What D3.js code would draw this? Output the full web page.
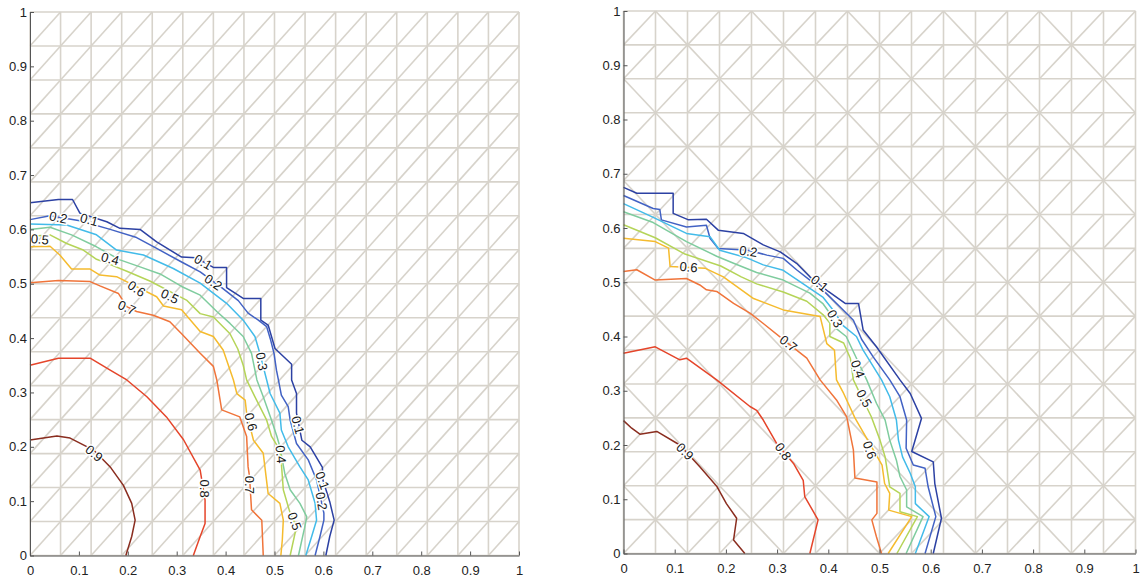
<!DOCTYPE html>
<html lang="en">
<head>
    <meta charset="UTF-8">
    <title>Contours on triangular meshes</title>
    <script src="https://d3js.org/d3.v7.min.js"></script>
    <style>
        body {
            margin: 0;
            background: #fff;
            font-family: "Liberation Sans", Arial, sans-serif;
        }
        .mesh {
            fill: none;
            stroke: #d7d3cb;
            stroke-width: 1.6;
        }
        .contour {
            fill: none;
            stroke-width: 1.5;
            stroke-linejoin: round;
        }
        .clabel {
            font-size: 13px;
            fill: #1a1a1a;
            stroke: #fff;
            stroke-width: 3px;
            paint-order: stroke;
        }
        .axis path, .axis line {
            stroke: #555;
        }
        .axis text {
            fill: #222;
            font-size: 13px;
            font-family: "Liberation Sans", Arial, sans-serif;
        }
    </style>
</head>
<body>
<svg width="1143" height="580"></svg>
<script>
    // tick values and labels (same on both axes)
    const ticks = [0, 0.1, 0.2, 0.3, 0.4, 0.5, 0.6, 0.7, 0.8, 0.9, 1];
    const tickLabels = ["0", "0.1", "0.2", "0.3", "0.4", "0.5", "0.6", "0.7", "0.8", "0.9", "1"];

    // contour levels and their colours (jet-like)
    const levels = [0.1, 0.2, 0.3, 0.4, 0.5, 0.6, 0.7, 0.8, 0.9];
    const levelColors = ["#2c41a3", "#4262c4", "#42bbe9", "#7fcc9e", "#b5d458",
                         "#f5bb2e", "#f0743a", "#e5452a", "#8a2d1f"];

    const meshCells = 16;

    // ---- left panel: contour polylines [x, y] ----
    const left01 = [[0,0.649],[0.058,0.655],[0.087,0.655],[0.102,0.630],[0.157,0.614],[0.184,0.602],[0.225,0.600],
        [0.259,0.577],[0.310,0.549],[0.339,0.548],[0.375,0.530],[0.402,0.530],[0.402,0.493],[0.436,0.473],
        [0.472,0.473],[0.472,0.433],[0.487,0.424],[0.501,0.381],[0.535,0.352],[0.535,0.323],[0.545,0.298],
        [0.545,0.262],[0.556,0.212],[0.573,0.200],[0.598,0.162],[0.599,0.139],[0.613,0.099],[0.622,0.065],
        [0.613,0.035],[0.605,0]];
    const left02 = [[0,0.618],[0.041,0.625],[0.102,0.616],[0.164,0.600],[0.218,0.585],[0.259,0.565],[0.310,0.540],
        [0.348,0.522],[0.392,0.493],[0.426,0.469],[0.446,0.446],[0.467,0.433],[0.484,0.421],[0.492,0.397],
        [0.499,0.372],[0.504,0.341],[0.508,0.323],[0.514,0.295],[0.528,0.274],[0.532,0.249],[0.545,0.206],
        [0.569,0.176],[0.586,0.139],[0.601,0.078],[0.601,0.065],[0.593,0.035],[0.583,0]];
    const left03 = [[0,0.610],[0.075,0.608],[0.136,0.590],[0.177,0.562],[0.232,0.553],[0.293,0.528],[0.348,0.501],
        [0.402,0.464],[0.436,0.433],[0.460,0.403],[0.470,0.372],[0.484,0.323],[0.491,0.298],[0.511,0.262],
        [0.514,0.231],[0.528,0.200],[0.552,0.163],[0.569,0.139],[0.583,0.096],[0.586,0.065],[0.576,0.035],[0.564,0]];
    const left04 = [[0,0.600],[0.041,0.604],[0.085,0.590],[0.136,0.568],[0.184,0.544],[0.225,0.531],[0.266,0.518],
        [0.310,0.495],[0.348,0.479],[0.382,0.449],[0.409,0.427],[0.436,0.403],[0.453,0.372],[0.464,0.323],
        [0.477,0.292],[0.494,0.249],[0.505,0.219],[0.511,0.200],[0.521,0.151],[0.532,0.121],[0.552,0.096],
        [0.566,0.071],[0.562,0.053],[0.549,0]];
    const left05 = [[0,0.587],[0.041,0.590],[0.075,0.574],[0.109,0.562],[0.136,0.545],[0.157,0.538],[0.198,0.523],
        [0.245,0.505],[0.320,0.470],[0.348,0.445],[0.375,0.439],[0.409,0.408],[0.425,0.380],[0.436,0.350],
        [0.443,0.323],[0.460,0.292],[0.484,0.249],[0.494,0.219],[0.511,0.194],[0.514,0.170],[0.518,0.121],
        [0.532,0.078],[0.545,0.053],[0.532,0]];
    const left06 = [[0,0.568],[0.041,0.569],[0.061,0.553],[0.085,0.527],[0.123,0.527],[0.143,0.516],[0.177,0.513],
        [0.259,0.476],[0.273,0.459],[0.310,0.452],[0.348,0.412],[0.375,0.403],[0.395,0.378],[0.416,0.323],
        [0.423,0.298],[0.440,0.286],[0.443,0.262],[0.457,0.212],[0.477,0.188],[0.487,0.114],[0.511,0.096],
        [0.518,0.065],[0.516,0.029],[0.513,0]];
    const left07 = [[0,0.502],[0.058,0.506],[0.123,0.504],[0.143,0.496],[0.181,0.482],[0.198,0.458],[0.218,0.449],
        [0.252,0.442],[0.286,0.430],[0.310,0.408],[0.348,0.372],[0.375,0.348],[0.382,0.323],[0.392,0.268],
        [0.429,0.255],[0.443,0.219],[0.446,0.163],[0.449,0.145],[0.453,0.084],[0.474,0.065],[0.477,0]];
    const left08 = [[0,0.350],[0.058,0.363],[0.123,0.363],[0.164,0.341],[0.198,0.323],[0.239,0.292],[0.279,0.255],
        [0.314,0.213],[0.348,0.157],[0.358,0.102],[0.358,0.059],[0.348,0.035],[0.334,0]];
    const left09 = [[0,0.2125],[0.055,0.220],[0.082,0.216],[0.130,0.194],[0.164,0.163],[0.191,0.129],[0.208,0.096],
        [0.215,0.065],[0.208,0.035],[0.196,0]];
    const leftLines = [left01, left02, left03, left04, left05, left06, left07, left08, left09];
    // [text, x, y, angle]
    const leftLabels = [["0.2",0.058,0.622,12],["0.1",0.121,0.618,15],["0.5",0.020,0.582,5],["0.4",0.164,0.546,15],
        ["0.1",0.354,0.540,30],["0.2",0.375,0.503,35],["0.6",0.218,0.491,35],["0.5",0.286,0.477,25],
        ["0.7",0.198,0.456,25],["0.3",0.474,0.357,80],["0.6",0.452,0.246,75],["0.1",0.548,0.240,75],
        ["0.4",0.513,0.186,85],["0.9",0.131,0.188,40],["0.8",0.356,0.123,90],["0.7",0.450,0.130,90],
        ["0.1",0.598,0.138,70],["0.2",0.596,0.100,80],["0.5",0.541,0.063,70]];

    // ---- right panel ----
    const right01 = [[0,0.675],[0.026,0.664],[0.097,0.664],[0.097,0.627],[0.127,0.615],[0.162,0.616],[0.185,0.596],
        [0.234,0.590],[0.273,0.569],[0.306,0.556],[0.338,0.535],[0.364,0.510],[0.400,0.483],[0.433,0.461],
        [0.459,0.461],[0.468,0.412],[0.494,0.381],[0.540,0.320],[0.560,0.295],[0.582,0.249],[0.563,0.188],
        [0.605,0.169],[0.608,0.129],[0.621,0.065],[0.605,0]];
    const right02 = [[0,0.660],[0.058,0.636],[0.071,0.634],[0.074,0.615],[0.123,0.602],[0.162,0.605],[0.169,0.581],
        [0.185,0.562],[0.244,0.559],[0.280,0.550],[0.312,0.544],[0.338,0.523],[0.364,0.504],[0.390,0.485],
        [0.429,0.449],[0.449,0.430],[0.465,0.395],[0.488,0.362],[0.520,0.320],[0.540,0.289],[0.553,0.246],
        [0.552,0.194],[0.566,0.163],[0.589,0.157],[0.595,0.123],[0.610,0.068],[0.589,0]];
    const right03 = [[0,0.645],[0.055,0.621],[0.123,0.590],[0.169,0.584],[0.188,0.559],[0.241,0.545],[0.273,0.532],
        [0.312,0.522],[0.351,0.497],[0.390,0.472],[0.410,0.448],[0.429,0.420],[0.455,0.400],[0.468,0.375],
        [0.504,0.320],[0.520,0.289],[0.533,0.246],[0.537,0.209],[0.545,0.178],[0.560,0.148],[0.570,0.123],
        [0.570,0.092],[0.597,0.068],[0.570,0]];
    const right04 = [[0,0.630],[0.058,0.610],[0.123,0.575],[0.182,0.548],[0.215,0.535],[0.260,0.518],[0.312,0.504],
        [0.364,0.480],[0.390,0.460],[0.405,0.440],[0.415,0.415],[0.435,0.400],[0.455,0.360],[0.475,0.320],
        [0.494,0.277],[0.511,0.246],[0.520,0.209],[0.533,0.172],[0.540,0.142],[0.553,0.117],[0.553,0.086],
        [0.585,0.068],[0.552,0]];
    const right05 = [[0,0.606],[0.062,0.582],[0.120,0.552],[0.190,0.530],[0.230,0.510],[0.260,0.497],[0.312,0.482],
        [0.358,0.465],[0.390,0.440],[0.403,0.425],[0.403,0.400],[0.430,0.388],[0.443,0.360],[0.449,0.320],
        [0.468,0.283],[0.484,0.252],[0.501,0.209],[0.511,0.178],[0.520,0.123],[0.540,0.111],[0.540,0.077],
        [0.574,0.068],[0.534,0]];
    const right06 = [[0,0.581],[0.062,0.575],[0.088,0.563],[0.091,0.529],[0.159,0.526],[0.195,0.510],[0.254,0.470],
        [0.312,0.449],[0.384,0.437],[0.397,0.387],[0.412,0.375],[0.416,0.320],[0.430,0.295],[0.452,0.250],
        [0.475,0.212],[0.505,0.163],[0.510,0.129],[0.520,0.111],[0.518,0.080],[0.563,0.068],[0.517,0]];
    const right07 = [[0,0.520],[0.026,0.523],[0.062,0.504],[0.123,0.507],[0.149,0.495],[0.162,0.486],[0.182,0.483],
        [0.215,0.461],[0.247,0.443],[0.273,0.424],[0.322,0.387],[0.358,0.360],[0.384,0.320],[0.416,0.283],
        [0.436,0.252],[0.449,0.191],[0.452,0.139],[0.495,0.132],[0.495,0.074],[0.485,0.062],[0.494,0.031],[0.504,0]];
    const right08 = [[0,0.369],[0.062,0.381],[0.110,0.357],[0.123,0.360],[0.182,0.320],[0.247,0.271],[0.260,0.264],
        [0.273,0.246],[0.299,0.203],[0.332,0.166],[0.351,0.135],[0.354,0.105],[0.380,0.062],[0.364,0]];
    const right09 = [[0,0.245],[0.016,0.231],[0.032,0.220],[0.065,0.225],[0.110,0.200],[0.149,0.160],[0.182,0.124],
        [0.201,0.092],[0.221,0.065],[0.215,0.025],[0.237,0]];
    const rightLines = [right01, right02, right03, right04, right05, right06, right07, right08, right09];
    const rightLabels = [["0.2",0.244,0.557,8],["0.6",0.127,0.528,5],["0.1",0.383,0.498,40],["0.3",0.413,0.433,60],
        ["0.7",0.322,0.387,38],["0.4",0.458,0.340,70],["0.5",0.470,0.286,60],["0.9",0.120,0.188,45],
        ["0.8",0.312,0.188,55],["0.6",0.481,0.191,70]];

    const svg = d3.select("svg");

    const panels = [
        { left: 30, right: 519, top: 12, bottom: 555.5, criss: false, lines: leftLines, labels: leftLabels },
        { left: 623.5, right: 1135.5, top: 11, bottom: 553.5, criss: true, lines: rightLines, labels: rightLabels }
    ];

    panels.forEach(p => drawPanel(svg.append("g"), p));

    function drawPanel(g, p) {
        const x = d3.scaleLinear().domain([0, 1]).range([p.left, p.right]);
        const y = d3.scaleLinear().domain([0, 1]).range([p.bottom, p.top]);
        const line = d3.line().x(d => x(d[0])).y(d => y(d[1]));

        // triangular mesh
        const h = 1 / meshCells;
        const segs = [];
        for (let k = 0; k <= meshCells; k++) {
            segs.push([[k * h, 0], [k * h, 1]]);
            segs.push([[0, k * h], [1, k * h]]);
        }
        for (let i = 0; i < meshCells; i++) {
            for (let j = 0; j < meshCells; j++) {
                const back = p.criss && (i + j) % 3 === 1;
                segs.push(back
                    ? [[i * h, (j + 1) * h], [(i + 1) * h, j * h]]
                    : [[i * h, j * h], [(i + 1) * h, (j + 1) * h]]);
            }
        }
        g.append("g").selectAll("path")
            .data(segs)
            .join("path")
            .attr("class", "mesh")
            .attr("d", line);

        // contour lines
        g.append("g").selectAll("path")
            .data(p.lines)
            .join("path")
            .attr("class", "contour")
            .attr("stroke", (d, i) => levelColors[i])
            .attr("d", line);

        // contour labels
        g.append("g").selectAll("text")
            .data(p.labels)
            .join("text")
            .attr("class", "clabel")
            .attr("text-anchor", "middle")
            .attr("dy", "0.35em")
            .attr("transform", d => `translate(${x(d[1])},${y(d[2])}) rotate(${d[3]})`)
            .text(d => d[0]);

        // axes, ticks pointing inward
        g.append("g")
            .attr("class", "axis")
            .attr("transform", `translate(0,${p.bottom})`)
            .call(d3.axisBottom(x).tickValues(ticks).tickFormat((d, i) => tickLabels[i])
                .tickSizeInner(-4).tickSizeOuter(0).tickPadding(10));

        g.append("g")
            .attr("class", "axis")
            .attr("transform", `translate(${p.left},0)`)
            .call(d3.axisLeft(y).tickValues(ticks).tickFormat((d, i) => tickLabels[i])
                .tickSizeInner(-4).tickSizeOuter(0).tickPadding(3));
    }
</script>
</body>
</html>
